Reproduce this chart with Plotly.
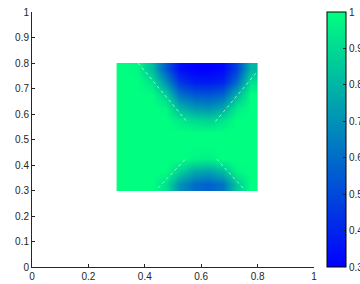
import plotly.graph_objects as go

# cell centres of the coloured square
x_centers = [0.325, 0.375, 0.425, 0.475, 0.525, 0.575, 0.625, 0.675, 0.725, 0.775]
y_centers = [0.325, 0.375, 0.425, 0.475, 0.525, 0.575, 0.625, 0.675, 0.725, 0.775]

# values, rows from bottom (y=0.325) to top (y=0.775)
z_rows = [
    [1.00, 1.00, 1.00, 0.92, 0.70, 0.60, 0.57, 0.62, 0.85, 1.00],
    [1.00, 1.00, 1.00, 1.00, 0.88, 0.77, 0.75, 0.82, 0.98, 1.00],
    [1.00, 1.00, 1.00, 1.00, 1.00, 0.97, 0.96, 1.00, 1.00, 1.00],
    [1.00, 1.00, 1.00, 1.00, 1.00, 1.00, 1.00, 1.00, 1.00, 1.00],
    [1.00, 1.00, 1.00, 1.00, 1.00, 1.00, 1.00, 1.00, 1.00, 1.00],
    [1.00, 1.00, 1.00, 1.00, 0.95, 0.90, 0.88, 0.93, 1.00, 1.00],
    [1.00, 1.00, 1.00, 0.98, 0.80, 0.72, 0.70, 0.76, 0.95, 1.00],
    [1.00, 1.00, 1.00, 0.88, 0.62, 0.55, 0.54, 0.58, 0.80, 1.00],
    [1.00, 1.00, 0.93, 0.70, 0.45, 0.38, 0.37, 0.40, 0.60, 0.92],
    [1.00, 0.98, 0.82, 0.55, 0.34, 0.30, 0.30, 0.32, 0.48, 0.80],
]

# faint mesh edges (x0, y0, x1, y1)
edge_x0 = [0.376, 0.794, 0.447, 0.748]
edge_y0 = [0.800, 0.760, 0.310, 0.310]
edge_x1 = [0.550, 0.649, 0.550, 0.649]
edge_y1 = [0.569, 0.569, 0.430, 0.430]

x_ticks = [0, 0.2, 0.4, 0.6, 0.8, 1]
x_labels = ["0", "0.2", "0.4", "0.6", "0.8", "1"]
y_ticks = [0, 0.1, 0.2, 0.3, 0.4, 0.5, 0.6, 0.7, 0.8, 0.9, 1]
y_labels = ["0", "0.1", "0.2", "0.3", "0.4", "0.5", "0.6", "0.7", "0.8", "0.9", "1"]
cb_ticks = [0.3, 0.4, 0.5, 0.6, 0.7, 0.8, 0.9, 1]
cb_labels = ["0.3", "0.4", "0.5", "0.6", "0.7", "0.8", "0.9", "1"]

winter = [[0, "rgb(0,0,255)"], [1, "rgb(0,255,128)"]]
axis_col = "#262626"
font = dict(family="Liberation Sans, Arial, sans-serif", size=10, color=axis_col)

fig = go.Figure()
fig.add_trace(go.Heatmap(
    x=x_centers, y=y_centers, z=z_rows,
    colorscale=winter, zmin=0.3, zmax=1, zsmooth="best",
    colorbar=dict(
        x=1.046, xanchor="left", xpad=0, y=0.5, yanchor="middle", len=1.0,
        lenmode="fraction", ypad=0, thickness=19, outlinecolor="black", outlinewidth=1,
        tickvals=cb_ticks, ticktext=cb_labels, ticks="inside", ticklen=3,
        tickcolor=axis_col, tickfont=font,
    ),
    hoverinfo="skip",
))
for i in range(len(edge_x0)):
    fig.add_trace(go.Scatter(
        x=[edge_x0[i], edge_x1[i]], y=[edge_y0[i], edge_y1[i]], mode="lines",
        line=dict(color="rgba(210,255,225,0.7)", width=1, dash="dot"),
        showlegend=False, hoverinfo="skip",
    ))

fig.update_layout(
    width=360, height=284,
    margin=dict(l=32, r=46, t=12, b=17, autoexpand=False),
    paper_bgcolor="white", plot_bgcolor="white",
    font=font, showlegend=False,
    xaxis=dict(range=[0, 1], tickvals=x_ticks, ticktext=x_labels, ticks="inside", ticklen=3,
               tickcolor=axis_col, showline=True, linecolor=axis_col, linewidth=1,
               showgrid=False, zeroline=False, mirror=False, tickfont=font, automargin=False),
    yaxis=dict(range=[0, 1], tickvals=y_ticks, ticktext=y_labels, ticks="inside", ticklen=3,
               tickcolor=axis_col, showline=True, linecolor=axis_col, linewidth=1,
               showgrid=False, zeroline=False, mirror=False, tickfont=font, automargin=False),
)
fig.write_html("out.html", config={"displayModeBar": False},
               post_script="document.body.style.margin='0';document.body.style.overflow='hidden';")
